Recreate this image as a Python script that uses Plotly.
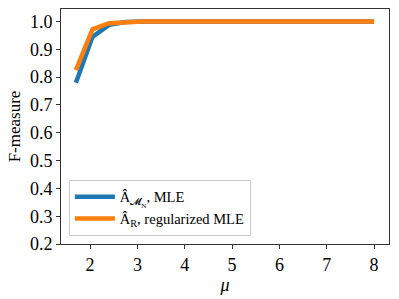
import plotly.graph_objects as go

mu = [1.7, 2.05, 2.4, 2.75, 3.1, 3.45, 3.8, 4.15, 4.5, 4.85, 5.2, 5.55, 5.9, 6.25, 6.6, 6.95, 7.3, 7.65, 8.0]
f_mle = [0.78, 0.945, 0.988, 0.998, 1.0, 1.0, 1.0, 1.0, 1.0, 1.0, 1.0, 1.0, 1.0, 1.0, 1.0, 1.0, 1.0, 1.0, 1.0]
f_reg = [0.825, 0.972, 0.994, 0.999, 1.0, 1.0, 1.0, 1.0, 1.0, 1.0, 1.0, 1.0, 1.0, 1.0, 1.0, 1.0, 1.0, 1.0, 1.0]
y_ticks = [0.2, 0.3, 0.4, 0.5, 0.6, 0.7, 0.8, 0.9, 1.0]
x_ticks = [2, 3, 4, 5, 6, 7, 8]

FONT = "Liberation Serif"

fig = go.Figure()
fig.add_trace(go.Scatter(x=mu, y=f_mle, mode="lines",
                         line=dict(color="#1f77b4", width=4.5),
                         name="Â<sub>𝓜<sub>N</sub></sub>, MLE"))
fig.add_trace(go.Scatter(x=mu, y=f_reg, mode="lines",
                         line=dict(color="#ff7f0e", width=4.5),
                         name="Â<sub>R</sub>, regularized MLE"))

axis_common = dict(showline=True, linecolor="#333333", linewidth=1, mirror=True,
                   ticks="outside", ticklen=4, tickwidth=1, tickcolor="#333333",
                   showgrid=False, zeroline=False,
                   tickfont=dict(family=FONT, size=18, color="black"))

fig.update_layout(
    width=399, height=299,
    margin=dict(l=61, r=10, t=8, b=54),
    paper_bgcolor="white", plot_bgcolor="white",
    font=dict(family=FONT, color="black"),
    xaxis=dict(range=[1.385, 8.315], tickvals=x_ticks,
               title=dict(text="<i>μ</i>", font=dict(family=FONT, size=18), standoff=4),
               **axis_common),
    yaxis=dict(range=[0.2, 1.045], tickvals=y_ticks, tickformat=".1f",
               title=dict(text="F-measure", font=dict(family=FONT, size=17), standoff=4),
               **axis_common),
    legend=dict(x=0.024, y=0.035, xanchor="left", yanchor="bottom",
                bgcolor="rgba(255,255,255,0.8)", bordercolor="#cccccc", borderwidth=1,
                font=dict(family=FONT, size=14.5, color="black"),
                itemwidth=40, tracegroupgap=0),
    showlegend=True,
)

fig.write_html("out.html", config={"displayModeBar": False},
               post_script="document.body.style.margin='0';")
